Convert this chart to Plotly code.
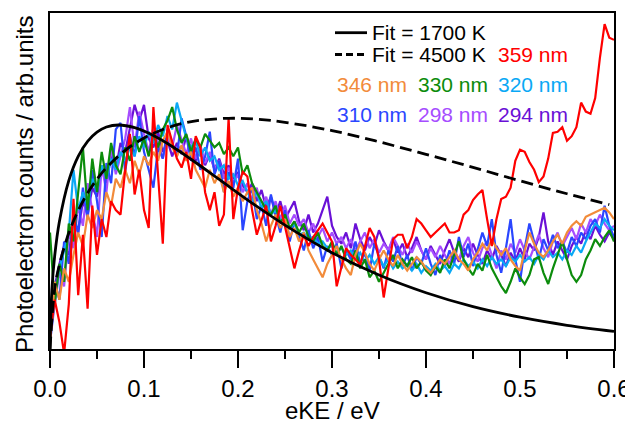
import plotly.graph_objects as go

# x grid (eKE / eV), 0.005 eV steps
ekE = [round(0.005 * i, 3) for i in range(121)]

nm294 = [0.04, 0.28, 0.38, 0.46, 0.42, 0.58, 0.52, 0.66, 0.60, 0.72,
         0.68, 0.80, 0.74, 0.86, 0.80, 0.92, 0.88, 0.98, 1.09, 1.02,
         1.09, 0.94, 0.90, 0.97, 0.88, 0.93, 0.86, 0.92, 0.87, 0.95,
         0.89, 0.84, 0.90, 0.82, 0.87, 0.80, 0.85, 0.78, 0.82, 0.76,
         0.79, 0.73, 0.70, 0.74, 0.66, 0.71, 0.63, 0.68, 0.60, 0.66,
         0.58, 0.62, 0.66, 0.57, 0.53, 0.60, 0.52, 0.56, 0.62, 0.68,
         0.55, 0.50, 0.47, 0.52, 0.45, 0.56, 0.49, 0.44, 0.50, 0.46,
         0.53, 0.48, 0.44, 0.49, 0.43, 0.47, 0.41, 0.45, 0.50, 0.44,
         0.40, 0.46, 0.42, 0.38, 0.44, 0.49, 0.43, 0.39, 0.45, 0.41,
         0.47, 0.42, 0.38, 0.44, 0.40, 0.46, 0.42, 0.37, 0.43, 0.39,
         0.45, 0.40, 0.47, 0.44, 0.50, 0.61, 0.48, 0.42, 0.48, 0.44,
         0.40, 0.46, 0.50, 0.47, 0.53, 0.49, 0.55, 0.51, 0.48, 0.52,
         0.49]
nm298 = [0.03, 0.20, 0.34, 0.28, 0.52, 0.45, 0.64, 0.55, 0.74, 0.62,
         0.50, 0.82, 0.70, 0.90, 0.78, 0.86, 0.94, 1.08, 0.90, 1.06,
         0.96, 0.88, 0.99, 0.92, 0.85, 0.95, 0.90, 1.00, 0.93, 0.87,
         0.94, 0.85, 0.91, 0.83, 0.88, 0.80, 0.84, 0.76, 0.81, 0.74,
         0.78, 0.70, 0.74, 0.66, 0.72, 0.62, 0.68, 0.60, 0.66, 0.58,
         0.64, 0.56, 0.60, 0.55, 0.58, 0.52, 0.56, 0.50, 0.54, 0.48,
         0.52, 0.47, 0.50, 0.45, 0.49, 0.44, 0.48, 0.52, 0.45, 0.49,
         0.43, 0.47, 0.44, 0.50, 0.46, 0.42, 0.47, 0.43, 0.48, 0.44,
         0.40, 0.45, 0.41, 0.46, 0.42, 0.38, 0.44, 0.40, 0.46, 0.50,
         0.43, 0.39, 0.45, 0.48, 0.42, 0.36, 0.44, 0.40, 0.47, 0.43,
         0.49, 0.44, 0.40, 0.46, 0.51, 0.45, 0.41, 0.48, 0.52, 0.46,
         0.50, 0.54, 0.49, 0.56, 0.52, 0.58, 0.55, 0.60, 0.56, 0.53,
         0.55]
nm310 = [0.05, 0.30, 0.22, 0.48, 0.38, 0.60, 0.52, 0.72, 0.58, 0.80,
         0.66, 0.50, 0.83, 0.74, 0.98, 1.01, 0.79, 0.95, 0.86, 1.04,
         0.88, 0.80, 0.72, 0.90, 0.85, 0.98, 0.92, 0.86, 1.03, 0.95,
         0.84, 0.90, 0.80, 0.86, 0.97, 0.78, 0.84, 0.70, 0.79, 0.72,
         0.85, 0.53, 0.66, 0.72, 0.58, 0.64, 0.55, 0.69, 0.60, 0.52,
         0.62, 0.48, 0.57, 0.50, 0.44, 0.53, 0.45, 0.50, 0.39, 0.46,
         0.42, 0.47, 0.36, 0.44, 0.40, 0.48, 0.38, 0.43, 0.35, 0.47,
         0.41, 0.36, 0.44, 0.39, 0.46, 0.37, 0.42, 0.35, 0.41, 0.38,
         0.45, 0.38, 0.33, 0.42, 0.37, 0.44, 0.38, 0.50, 0.41, 0.47,
         0.37, 0.44, 0.52, 0.46, 0.58, 0.42, 0.34, 0.45, 0.58, 0.40,
         0.30, 0.45, 0.56, 0.48, 0.40, 0.49, 0.44, 0.51, 0.45, 0.48,
         0.43, 0.50, 0.46, 0.52, 0.49, 0.55, 0.58, 0.52, 0.64, 0.55,
         0.50]
nm320 = [0.03, 0.22, 0.36, 0.44, 0.52, 0.80, 0.62, 0.70, 0.64, 0.76,
         0.70, 0.82, 0.76, 0.85, 0.80, 0.88, 0.84, 0.90, 0.86, 0.95,
         0.90, 0.97, 0.92, 1.00, 0.95, 1.04, 0.98, 1.10, 1.02, 0.94,
         0.90, 0.93, 0.86, 0.90, 0.84, 0.86, 0.80, 0.82, 0.76, 0.78,
         0.73, 0.75, 0.70, 0.66, 0.70, 0.63, 0.66, 0.60, 0.62, 0.57,
         0.59, 0.54, 0.56, 0.51, 0.52, 0.49, 0.50, 0.47, 0.48, 0.45,
         0.46, 0.43, 0.45, 0.42, 0.44, 0.40, 0.43, 0.39, 0.42, 0.38,
         0.41, 0.37, 0.40, 0.36, 0.39, 0.36, 0.38, 0.35, 0.38, 0.34,
         0.37, 0.35, 0.38, 0.35, 0.37, 0.34, 0.38, 0.36, 0.40, 0.37,
         0.39, 0.36, 0.40, 0.37, 0.41, 0.38, 0.40, 0.37, 0.41, 0.39,
         0.42, 0.39, 0.41, 0.38, 0.42, 0.40, 0.44, 0.41, 0.43, 0.40,
         0.44, 0.42, 0.46, 0.43, 0.48, 0.52, 0.56, 0.54, 0.58, 0.55,
         0.53]
nm330 = [0.52, 0.20, 0.38, 0.30, 0.56, 0.48, 0.70, 0.90, 0.62, 0.85,
         0.70, 0.88, 0.76, 0.92, 0.82, 0.78, 0.90, 0.84, 0.95, 0.88,
         0.94, 0.86, 0.96, 0.90, 0.98, 1.02, 1.08, 0.98, 0.92, 0.96,
         0.88, 0.94, 0.90, 0.96, 0.93, 0.90, 0.92, 0.87, 0.90, 0.86,
         0.90, 0.78, 0.82, 0.74, 0.70, 0.66, 0.62, 0.60, 0.64, 0.56,
         0.60, 0.54, 0.57, 0.52, 0.56, 0.50, 0.48, 0.52, 0.46, 0.44,
         0.48, 0.42, 0.46, 0.40, 0.38, 0.44, 0.36, 0.40, 0.32, 0.35,
         0.30, 0.34, 0.38, 0.42, 0.36, 0.40, 0.37, 0.41, 0.36, 0.39,
         0.35, 0.33, 0.37, 0.34, 0.40, 0.36, 0.42, 0.48, 0.40, 0.36,
         0.33, 0.38, 0.35, 0.42, 0.36, 0.32, 0.28, 0.25, 0.30, 0.36,
         0.32, 0.29, 0.33, 0.40, 0.41, 0.34, 0.29, 0.36, 0.42, 0.48,
         0.40, 0.33, 0.30, 0.33, 0.40, 0.44, 0.49, 0.46, 0.50, 0.53,
         0.48]
nm346 = [0.02, 0.30, 0.22, 0.36, 0.30, 0.42, 0.52, 0.46, 0.60, 0.54,
         0.62, 0.58, 0.70, 0.64, 0.76, 0.72, 0.80, 0.74, 0.84, 0.78,
         0.86, 0.82, 0.88, 0.84, 0.93, 0.97, 0.90, 0.86, 0.91, 0.84,
         0.88, 0.80, 0.76, 0.72, 0.80, 0.74, 0.78, 0.70, 0.75, 0.68,
         0.72, 0.66, 0.70, 0.72, 0.62, 0.56, 0.48, 0.55, 0.60, 0.54,
         0.58, 0.50, 0.54, 0.48, 0.52, 0.44, 0.40, 0.36, 0.32, 0.38,
         0.42, 0.46, 0.40, 0.36, 0.33, 0.42, 0.47, 0.43, 0.38, 0.35,
         0.40, 0.44, 0.40, 0.37, 0.42, 0.38, 0.35, 0.38, 0.41, 0.39,
         0.36, 0.34, 0.37, 0.40, 0.38, 0.41, 0.44, 0.40, 0.38, 0.35,
         0.40, 0.43, 0.47, 0.44, 0.49, 0.45, 0.42, 0.45, 0.40, 0.37,
         0.35, 0.44, 0.52, 0.47, 0.43, 0.41, 0.44, 0.48, 0.51, 0.47,
         0.52, 0.55, 0.57, 0.55, 0.59, 0.60, 0.61, 0.62, 0.63, 0.61,
         0.58]
nm359 = [0.05, 0.22, 0.12, -0.02, 0.20, 0.67, 0.24, 0.51, 0.18, 0.64,
         0.42, 0.58, 0.50, 0.66, 0.62, 0.60, 0.80, 0.96, 0.69, 0.80,
         0.62, 0.54, 1.08, 0.78, 0.47, 1.00, 0.92, 0.85, 0.81, 0.88,
         0.76, 0.95, 0.90, 0.70, 0.62, 0.70, 0.55, 0.60, 1.03, 0.58,
         0.72, 0.79, 0.77, 0.62, 0.51, 0.58, 0.64, 0.48, 0.55, 0.64,
         0.55, 0.45, 0.36, 0.44, 0.51, 0.46, 0.50, 0.53, 0.56, 0.52,
         0.48, 0.28, 0.36, 0.45, 0.42, 0.40, 0.375, 0.46, 0.54, 0.50,
         0.40, 0.23, 0.36, 0.49, 0.51, 0.51, 0.45, 0.50, 0.58, 0.56,
         0.53, 0.50, 0.52, 0.54, 0.56, 0.52, 0.52, 0.53, 0.60, 0.62,
         0.665, 0.69, 0.71, 0.58, 0.46, 0.58, 0.67, 0.68, 0.72, 0.84,
         0.89, 0.88, 0.835, 0.80, 0.745, 0.77, 0.85, 0.965, 0.97, 0.99,
         0.93, 0.95, 0.99, 1.10, 1.06, 1.05, 1.12, 1.30, 1.45, 1.39,
         1.38]

fit1700_x = [0, 0.002, 0.005, 0.01, 0.02, 0.03, 0.04, 0.05, 0.06, 0.073, 0.09, 0.11,
             0.13, 0.15, 0.18, 0.21, 0.25, 0.30, 0.35, 0.40, 0.45, 0.50, 0.55, 0.60]
fit1700_y = [0, 0.265, 0.416, 0.569, 0.752, 0.860, 0.927, 0.968, 0.991, 1.0, 0.988, 0.953,
             0.904, 0.847, 0.757, 0.666, 0.553, 0.430, 0.330, 0.251, 0.189, 0.142, 0.106, 0.079]
fit4500_x = [0, 0.005, 0.01, 0.02, 0.03, 0.04, 0.05, 0.06, 0.08, 0.10, 0.12, 0.14,
             0.16, 0.19, 0.22, 0.25, 0.30, 0.35, 0.40, 0.45, 0.50, 0.55, 0.595]
fit4500_y = [0, 0.269, 0.376, 0.518, 0.618, 0.696, 0.758, 0.809, 0.887, 0.942, 0.980, 1.006,
             1.021, 1.030, 1.026, 1.012, 0.975, 0.925, 0.869, 0.811, 0.751, 0.693, 0.645]

series = [
    ("294 nm", nm294, "#6a10d6"),
    ("298 nm", nm298, "#a64dff"),
    ("310 nm", nm310, "#2a46ff"),
    ("320 nm", nm320, "#0aa8f5"),
    ("330 nm", nm330, "#0c8c0c"),
    ("346 nm", nm346, "#f28b3a"),
    ("359 nm", nm359, "#ff0000"),
]

FONT = "Liberation Sans, Arial, sans-serif"
fig = go.Figure()
for name, ys, col in series:
    fig.add_trace(go.Scatter(x=ekE, y=ys, mode="lines", name=name,
                             line=dict(color=col, width=2.2), showlegend=False))
fig.add_trace(go.Scatter(x=fit4500_x, y=fit4500_y, mode="lines", name="Fit = 4500 K",
                         line=dict(color="black", width=2.8, dash="12px,6px", shape="spline"),
                         showlegend=False))
fig.add_trace(go.Scatter(x=fit1700_x, y=fit1700_y, mode="lines", name="Fit = 1700 K",
                         line=dict(color="black", width=2.8, shape="spline"),
                         showlegend=False))

# page has an 8px body margin; work in page pixels and convert
OFF = 8
W, H = 633 - OFF, 423 - OFF
L, R, T, B = 50 - OFF, 614 - OFF, 13 - OFF, 349 - OFF
def px(x):
    return (x - OFF - L) / (R - L)
def py(y):
    return (B - (y - OFF)) / (B - T)

ann = []
def label(text, x, y, color, size=21):
    ann.append(dict(text=text, x=px(x), y=py(y), xref="paper", yref="paper",
                    xanchor="left", yanchor="middle", showarrow=False,
                    font=dict(family=FONT, size=size, color=color)))

label("Fit = 1700 K", 370, 32.7, "black")
label("Fit = 4500 K", 370, 54.5, "black")
label("359 nm", 496, 54.5, "#ff0000")
label("346 nm", 335, 84, "#f28b3a")
label("330 nm", 416, 84, "#0c8c0c")
label("320 nm", 496, 84, "#0aa8f5")
label("310 nm", 335, 114.5, "#2a46ff")
label("298 nm", 416, 114.5, "#a64dff")
label("294 nm", 496, 114.5, "#6a10d6")

ann.append(dict(text="eKE / eV", x=0.5, y=py(410), xref="paper", yref="paper",
                xanchor="center", yanchor="middle", showarrow=False,
                font=dict(family=FONT, size=24, color="black")))
ann.append(dict(text="Photoelectron counts / arb.units", x=px(24), y=py(184),
                xref="paper", yref="paper", xanchor="center", yanchor="middle",
                showarrow=False, textangle=-90,
                font=dict(family=FONT, size=24, color="black")))

shapes = [
    dict(type="line", xref="paper", yref="paper", x0=px(335), x1=px(367),
         y0=py(32.7), y1=py(32.7), line=dict(color="black", width=2.8)),
    dict(type="line", xref="paper", yref="paper", x0=px(335), x1=px(367),
         y0=py(54.5), y1=py(54.5), line=dict(color="black", width=2.8, dash="7px,4px")),
]

fig.update_layout(
    width=W, height=H,
    margin=dict(l=L, r=W - R, t=T, b=H - B, autoexpand=False),
    paper_bgcolor="white", plot_bgcolor="white",
    font=dict(family=FONT, size=24, color="black"),
    annotations=ann, shapes=shapes,
    xaxis=dict(range=[0, 0.6], tickmode="array", automargin=False,
               tickvals=[0, 0.1, 0.2, 0.3, 0.4, 0.5, 0.6],
               ticktext=["0.0", "0.1", "0.2", "0.3", "0.4", "0.5", "0.6"],
               ticks="outside", ticklen=17, tickwidth=2, tickcolor="black",
               minor=dict(tickvals=[0.05, 0.15, 0.25, 0.35, 0.45, 0.55],
                          ticks="outside", ticklen=8, tickwidth=2, tickcolor="black"),
               showline=True, linewidth=2, linecolor="black", mirror=True,
               showgrid=False, zeroline=False,
               tickfont=dict(family=FONT, size=24, color="black")),
    yaxis=dict(range=[0, 1.5], showticklabels=False, ticks="", automargin=False,
               showline=True, linewidth=2, linecolor="black", mirror=True,
               showgrid=False, zeroline=False),
)

fig.write_html("out.html")
